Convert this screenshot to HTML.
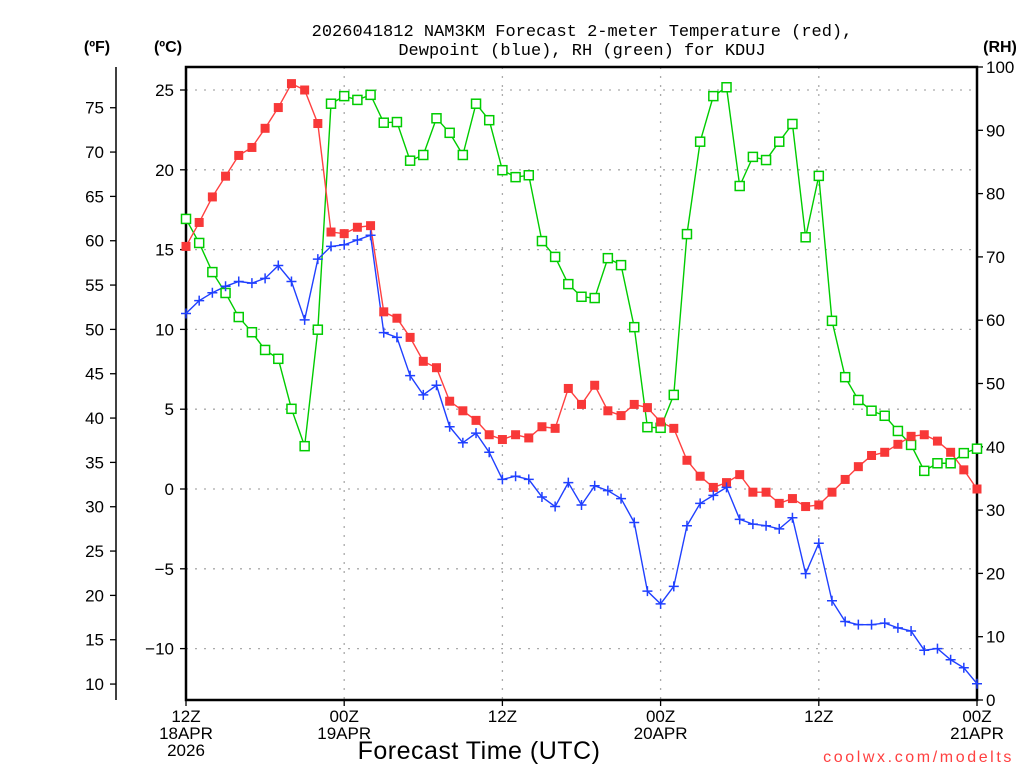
<!DOCTYPE html>
<html><head><meta charset="utf-8"><style>
html,body{margin:0;padding:0;background:#fff;}
svg{display:block;font-family:"Liberation Sans",sans-serif;}
</style></head><body>
<svg id="chart" width="1024" height="768" viewBox="0 0 1024 768" xmlns="http://www.w3.org/2000/svg">
<g id="grid"></g>
<g id="axes"></g>
<g id="series"></g>
<text x="582" y="36" text-anchor="middle" font-size="17" fill="#000" font-family="Liberation Mono, monospace">2026041812 NAM3KM Forecast 2-meter Temperature (red),</text>
<text x="582" y="55" text-anchor="middle" font-size="17" fill="#000" font-family="Liberation Mono, monospace">Dewpoint (blue), RH (green) for KDUJ</text>
<text x="97" y="52" text-anchor="middle" font-size="16" font-weight="bold">(ºF)</text>
<text x="168" y="52" text-anchor="middle" font-size="16" font-weight="bold">(ºC)</text>
<text x="1000" y="52" text-anchor="middle" font-size="16" font-weight="bold">(RH)</text>
<text x="479" y="759" text-anchor="middle" font-size="25" letter-spacing="0.5">Forecast Time (UTC)</text>
<text x="1014" y="762" text-anchor="end" font-size="16" fill="#ff4040" letter-spacing="2.6">coolwx.com/modelts</text>
</svg>
<script>
const hours = [];
for (let i = 0; i <= 60; i++) hours.push(i);
const tempC = [15.2,16.7,18.3,19.6,20.9,21.4,22.6,23.9,25.4,25.0,22.9,16.1,16.0,16.4,16.5,11.1,10.7,9.5,8.0,7.6,5.5,4.9,4.3,3.4,3.1,3.4,3.2,3.9,3.8,6.3,5.3,6.5,4.9,4.6,5.3,5.1,4.2,3.8,1.8,0.8,0.1,0.4,0.9,-0.2,-0.2,-0.9,-0.6,-1.1,-1.0,-0.2,0.6,1.4,2.1,2.3,2.8,3.3,3.4,3.0,2.3,1.2,0];
const dewC = [11.0,11.8,12.3,12.7,13.0,12.9,13.2,14.0,13.0,10.6,14.4,15.2,15.3,15.6,15.9,9.8,9.5,7.1,5.9,6.5,3.9,2.9,3.5,2.3,0.6,0.8,0.6,-0.5,-1.1,0.4,-1.0,0.2,-0.1,-0.6,-2.1,-6.4,-7.2,-6.1,-2.3,-0.9,-0.4,0.1,-1.9,-2.2,-2.3,-2.5,-1.8,-5.3,-3.4,-7.0,-8.3,-8.5,-8.5,-8.4,-8.7,-8.9,-10.1,-10.0,-10.7,-11.2,-12.2];
const rh = [76.0,72.2,67.6,64.3,60.5,58.1,55.3,53.9,46.0,40.1,58.5,94.2,95.4,94.8,95.6,91.2,91.3,85.2,86.1,91.9,89.6,86.1,94.2,91.6,83.7,82.6,82.9,72.5,70.0,65.7,63.7,63.5,69.8,68.7,58.9,43.1,43.0,48.2,73.6,88.2,95.4,96.8,81.2,85.8,85.3,88.2,91.0,73.1,82.8,59.9,51.0,47.4,45.7,44.9,42.5,40.3,36.2,37.4,37.4,39.0,39.7];
const cTicks = [25,20,15,10,5,0,-5,-10];
const fTicks = [75,70,65,60,55,50,45,40,35,30,25,20,15,10];
const rhTicks = [100,90,80,70,60,50,40,30,20,10,0];
const xTickHours = [0,12,24,36,48,60];
const xTickLabels = [["12Z","18APR","2026"],["00Z","19APR"],["12Z"],["00Z","20APR"],["12Z"],["00Z","21APR"]];

const L=186,R=977,T=67,B=700;
const xs = h => L + h*(R-L)/60;
const yC = c => 489 - c*15.96;
const yF = f => yC((f-32)/1.8);
const yRH = v => B - v*(B-T)/100;
const NS="http://www.w3.org/2000/svg";
function mk(tag, attrs, parent){const e=document.createElementNS(NS,tag);for(const k in attrs)e.setAttribute(k,attrs[k]);parent.appendChild(e);return e;}
const grid=document.getElementById('grid'), axes=document.getElementById('axes'), series=document.getElementById('series');

cTicks.forEach(c=>{
  const g=mk('line',{x1:L,x2:R,y1:yC(c),y2:yC(c),stroke:'#aaa','stroke-width':1.3,'stroke-dasharray':'2 7'},grid);
  
  
  const t=mk('line',{x1:L-6,x2:L,y1:yC(c),y2:yC(c),stroke:'#000','stroke-width':1.3},axes);
  
  
  const tx=mk('text',{x:L-12,y:yC(c)+6,'text-anchor':'end','font-size':17,fill:'#000'},axes);
  tx.textContent = c<0 ? '\u2212'+Math.abs(c) : String(c);
  
  
});
xTickHours.forEach((h,i)=>{
  if(i>0 && i<xTickHours.length-1){
    const g=mk('line',{x1:xs(h),x2:xs(h),y1:T,y2:B,stroke:'#aaa','stroke-width':1.3,'stroke-dasharray':'2 7'},grid);
    
    
  }
  const t=mk('line',{x1:xs(h),x2:xs(h),y1:B,y2:B+6,stroke:'#000','stroke-width':1.3},axes);
  
  
  xTickLabels[i].forEach((s,j)=>{
    const tx=mk('text',{x:xs(h),y:B+22+j*17,'text-anchor':'middle','font-size':17,fill:'#000'},axes);
    tx.textContent=s;
    
    
  });
});
const fa=mk('line',{x1:116,x2:116,y1:T,y2:B,stroke:'#000','stroke-width':1.5},axes);


fTicks.forEach(f=>{
  const t=mk('line',{x1:110,x2:116,y1:yF(f),y2:yF(f),stroke:'#000','stroke-width':1.3},axes);
  
  
  const tx=mk('text',{x:104,y:yF(f)+6,'text-anchor':'end','font-size':17,fill:'#000'},axes);
  tx.textContent=String(f);
  
  
});
rhTicks.forEach(v=>{
  const t=mk('line',{x1:R,x2:R+6,y1:yRH(v),y2:yRH(v),stroke:'#000','stroke-width':1.3},axes);
  
  
  const tx=mk('text',{x:R+9,y:yRH(v)+6,'text-anchor':'start','font-size':17,fill:'#000'},axes);
  tx.textContent=String(v);
  
  
});
const fr=mk('rect',{x:L,y:T,width:R-L,height:B-T,fill:'none',stroke:'#000','stroke-width':2.5},axes);



function line(vals, yf, color, name){
  const p=mk('polyline',{points:vals.map((v,i)=>xs(hours[i])+','+yf(v)).join(' '),fill:'none',stroke:color,'stroke-width':1.4},series);
  
  
}
line(rh,yRH,'#00cc00','rh-line');
line(tempC,yC,'#ff4040','temperature-line');
line(dewC,yC,'#2040ff','dewpoint-line');
rh.forEach((v,i)=>{
  const r=mk('rect',{x:xs(hours[i])-4.5,y:yRH(v)-4.5,width:9,height:9,fill:'#fff',stroke:'#00cc00','stroke-width':1.5},series);
  
  
});
tempC.forEach((v,i)=>{
  const r=mk('rect',{x:xs(hours[i])-4.5,y:yC(v)-4.5,width:9,height:9,fill:'#f83838'},series);
  
  
});
dewC.forEach((v,i)=>{
  const x=xs(hours[i]),y=yC(v);
  const p=mk('path',{d:`M${x-5},${y}H${x+5}M${x},${y-5}V${y+5}`,stroke:'#2040ff','stroke-width':1.5},series);
  
  
});
</script>
</body></html>
